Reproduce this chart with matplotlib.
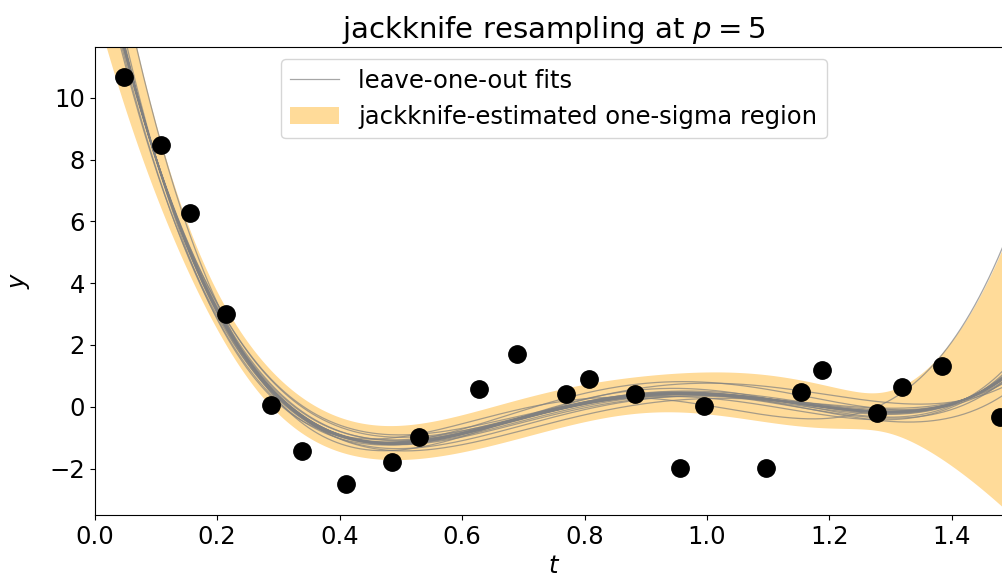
import numpy as np
import matplotlib
matplotlib.use("Agg")
import matplotlib.pyplot as plt

# observed samples
t_obs = [0.048, 0.109, 0.156, 0.214, 0.288, 0.338, 0.410, 0.485, 0.530,
         0.628, 0.689, 0.770, 0.807, 0.883, 0.956, 0.995, 1.097, 1.154,
         1.188, 1.278, 1.318, 1.383, 1.478]
y_obs = [10.66, 8.46, 6.27, 3.00, 0.05, -1.43, -2.51, -1.80, -0.97,
         0.59, 1.72, 0.42, 0.89, 0.40, -1.97, 0.02, -1.97, 0.48,
         1.19, -0.19, 0.63, 1.33, -0.34]

p = 5  # number of polynomial coefficients

t_obs = np.array(t_obs)
y_obs = np.array(y_obs)
n = len(t_obs)
tt = np.linspace(0, 1.5, 600)

# leave-one-out fits
loo = []
for i in range(n):
    keep = np.arange(n) != i
    c = np.polyfit(t_obs[keep], y_obs[keep], p - 1)
    loo.append(np.polyval(c, tt))
loo = np.array(loo)

full = np.polyval(np.polyfit(t_obs, y_obs, p - 1), tt)
sigma = np.sqrt((n - 1) / n * np.sum((loo - loo.mean(axis=0)) ** 2, axis=0))

plt.rcParams['font.size'] = 17.5
fig = plt.figure(figsize=(10.02, 5.81), dpi=100)
ax = fig.add_axes([0.0944, 0.1136, 0.9168, 0.806])

for k, f in enumerate(loo):
    ax.plot(tt, f, color='gray', alpha=0.7, lw=0.9,
            label='leave-one-out fits' if k == 0 else None)
ax.fill_between(tt, full - sigma, full + sigma, color='orange', alpha=0.4,
                lw=0, label='jackknife-estimated one-sigma region')
ax.plot(t_obs, y_obs, 'ko', ms=12.5)

ax.set_xlim(0, 1.5)
ax.set_ylim(-3.5, 11.65)
ax.set_xlabel('$t$', labelpad=4)
ax.set_ylabel('$y$', labelpad=12)
ax.set_title('jackknife resampling at $p=5$')
ax.legend(loc='upper center')

fig.savefig('out.png', dpi=100)
